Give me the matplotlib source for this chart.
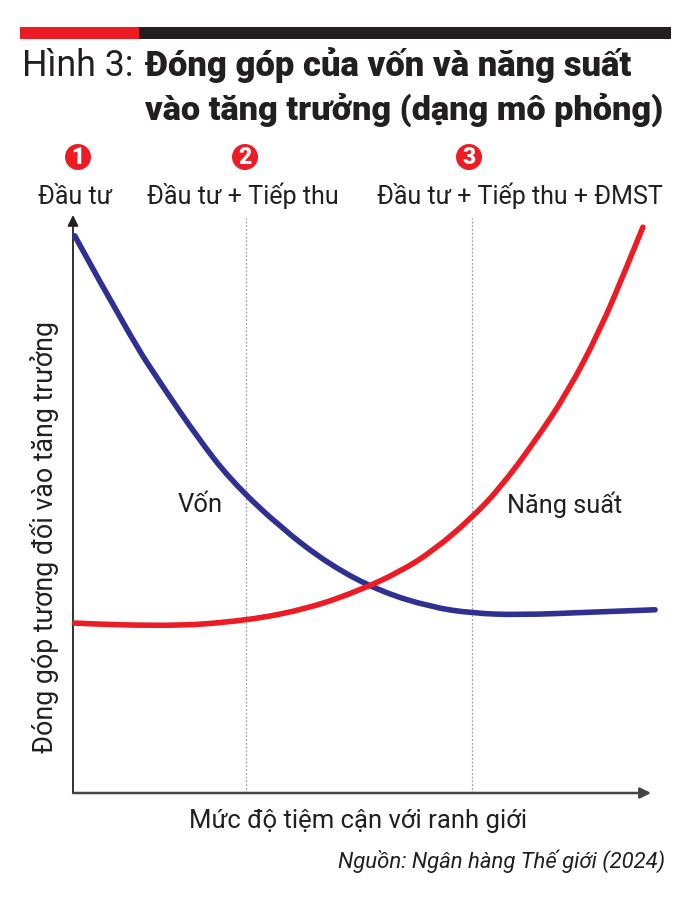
import matplotlib
matplotlib.use("Agg")
import matplotlib.pyplot as plt
from matplotlib.patches import Circle, PathPatch
from matplotlib.path import Path

# ---------------- data ----------------
von_x = [0.03, 0.99, 1.56, 2.15, 2.72, 3.58, 4.45, 5.31, 6.18, 6.90, 7.73, 9.00, 10.07]
von_y = [9.64, 7.89, 7.02, 6.16, 5.42, 4.60, 3.94, 3.49, 3.22, 3.11, 3.08, 3.13, 3.17]
nangsuat_x = [0.03, 1.51, 3.01, 4.10, 4.97, 5.66, 6.23, 6.90, 7.39, 7.96, 8.55, 9.12, 9.58, 9.86]
nangsuat_y = [2.94, 2.87, 2.98, 3.20, 3.51, 3.83, 4.19, 4.76, 5.28, 6.04, 6.92, 8.01, 9.10, 9.79]
stage_x = [3.0, 6.9]
stage_nums = ["1", "2", "3"]
stage_labels = ["Đầu tư", "Đầu tư + Tiếp thu", "Đầu tư + Tiếp thu + ĐMST"]
series_names = ["Vốn", "Năng suất"]
title_prefix = "Hình 3:"
title_lines = ["Đóng góp của vốn và năng suất", "vào tăng trưởng (dạng mô phỏng)"]
xlabel = "Mức độ tiệm cận với ranh giới"
ylabel = "Đóng góp tương đối vào tăng trưởng"
source = "Nguồn: Ngân hàng Thế giới (2024)"

BLUE = "#2E3192"
RED = "#ED1C24"
INK = "#231F20"

plt.rcParams["font.family"] = ["Roboto", "DejaVu Sans"]

W, H = 695, 897
fig = plt.figure(figsize=(W / 100, H / 100), dpi=100)
fig.patch.set_facecolor("white")

ax = fig.add_axes([73 / W, 1 - 793 / H, (651 - 73) / W, (793 - 215) / H])
ax.set_xlim(0, 10)
ax.set_ylim(0, 10)
ax.axis("off")

for sx in stage_x:
    ax.plot([sx, sx], [0, 9.95], color="#A0A0A0", lw=0.9, ls=(0, (1.5, 1.5)), zorder=1)

ax.annotate("", xy=(0, 10), xytext=(0, 0),
            arrowprops=dict(arrowstyle="-|>", color=INK, lw=1.3, mutation_scale=16,
                            shrinkA=0, shrinkB=0), annotation_clip=False)
ax.annotate("", xy=(10, 0), xytext=(0, 0),
            arrowprops=dict(arrowstyle="-|>", color="#444444", lw=1.8, mutation_scale=16,
                            shrinkA=0, shrinkB=0), annotation_clip=False)


def bspline_path(xs, ys):
    """Quadratic B-spline through the read points (smooths reading noise)."""
    pts = list(zip(xs, ys))
    n = len(pts)
    verts = [pts[0]]
    codes = [Path.MOVETO]
    for i in range(1, n - 2):
        mid = ((pts[i][0] + pts[i + 1][0]) / 2, (pts[i][1] + pts[i + 1][1]) / 2)
        verts += [pts[i], mid]
        codes += [Path.CURVE3, Path.CURVE3]
    verts += [pts[n - 2], pts[n - 1]]
    codes += [Path.CURVE3, Path.CURVE3]
    return Path(verts, codes)


for xs, ys, col, z in [(von_x, von_y, BLUE, 3), (nangsuat_x, nangsuat_y, RED, 4)]:
    patch = PathPatch(bspline_path(xs, ys), facecolor="none", edgecolor=col, lw=4.0,
                      capstyle="round", joinstyle="round", clip_on=False, zorder=z)
    ax.add_patch(patch)

renderer = fig.canvas.get_renderer()


def fit_text(px, py, s, target_w, ha="left", va="baseline", rotation=0, base=20, **kw):
    t = fig.text(px / W, 1 - py / H, s, ha=ha, va=va, rotation=rotation,
                 fontsize=base, color=kw.pop("color", INK), **kw)
    bb = t.get_window_extent(renderer)
    w = bb.height if rotation else bb.width
    t.set_fontsize(base * target_w / w)
    return t


# top bar
fig.add_artist(plt.Rectangle((20 / W, 1 - 39 / H), (139 - 20) / W, 12 / H,
                             transform=fig.transFigure, color=RED, lw=0))
fig.add_artist(plt.Rectangle((139 / W, 1 - 39 / H), (671 - 139) / W, 12 / H,
                             transform=fig.transFigure, color=INK, lw=0))

# title
fit_text(22, 76, title_prefix, 111)
fit_text(145, 76, title_lines[0], 487, fontweight="black")
fit_text(145, 120, title_lines[1], 520, fontweight="black")

# stage markers
circ_x = [78, 245, 469]
lab_cx = [75, 243, 520]
lab_w = [74, 191, 285]
for cx, num, lx, lw_, lab in zip(circ_x, stage_nums, lab_cx, lab_w, stage_labels):
    fig.add_artist(Circle((cx, H - 157), 13, transform=None, color=RED, lw=0))
    fig.text(cx / W, 1 - 157.5 / H, num, ha="center", va="center", color="white",
             fontsize=16.5, fontweight="black")
    fit_text(lx, 204, lab, lw_, ha="center")

# series labels
fit_text(200, 512, series_names[0], 45, ha="center")
fit_text(565, 513, series_names[1], 115, ha="center")

# axis labels
fit_text(45, 537, ylabel, 430, ha="center", va="center", rotation=90)
fit_text(358, 828, xlabel, 337, ha="center")
fit_text(665, 868, source, 328, ha="right", style="italic")

fig.savefig("out.png", dpi=100, facecolor="white")
